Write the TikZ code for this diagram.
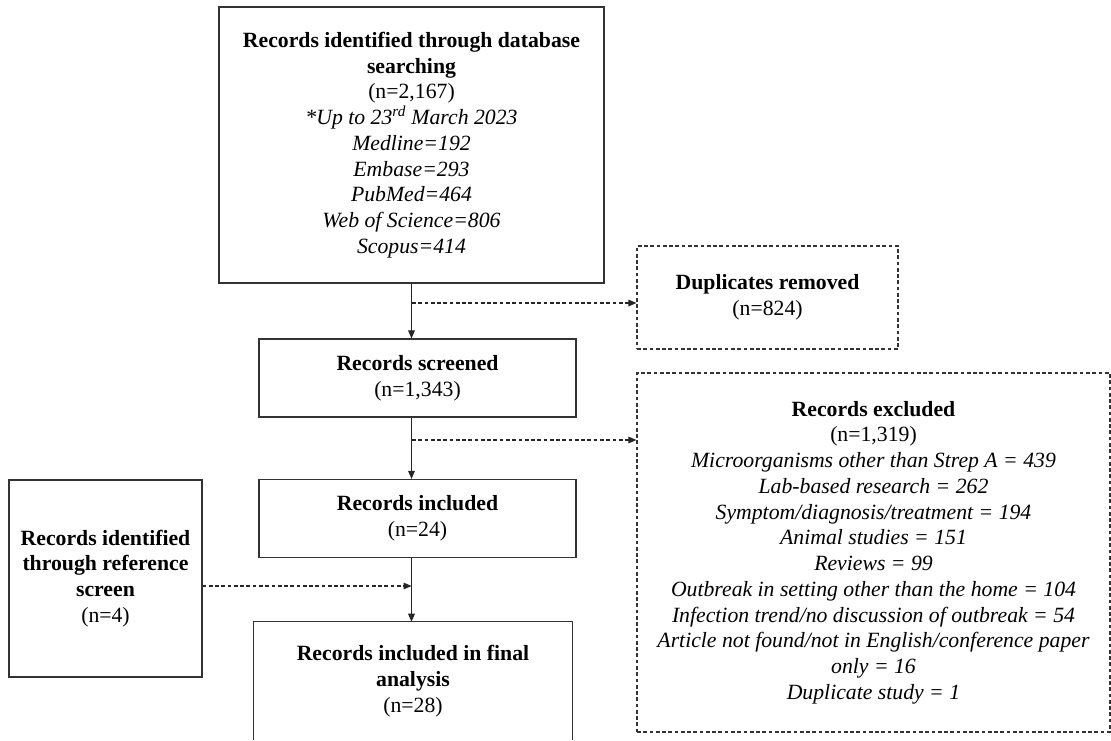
\documentclass[tikz,border=0pt]{standalone}
\usepackage{fontspec}
\setmainfont{Liberation Serif}
\usetikzlibrary{arrows.meta}
\begin{document}
\begin{tikzpicture}[x=0.75pt,y=-0.75pt,
  txt/.style={align=center, inner sep=0pt, font=\fontsize{16.3}{19.3}\selectfont},
  box/.style={txt, draw=black!80, line width=0.9pt},
  dbox/.style={box, dash pattern=on 2.8pt off 1.9pt},
  edge/.style={draw=black!80, line width=0.9pt},
  arr/.style={draw=black!85, line width=0.8pt, -{Triangle[length=6pt,width=5pt]}},
  darr/.style={arr, dash pattern=on 2.8pt off 1.9pt}]
\useasboundingbox (0,0) rectangle (1111,740);

\node[box, minimum width=288.75pt, minimum height=207pt] (top) at (411.5,145)
  {\textbf{Records identified through database}\\
   \textbf{searching}\\
   (n=2,167)\\
   \textit{*Up to 23\textsuperscript{rd} March 2023}\\
   \textit{Medline=192}\\
   \textit{Embase=293}\\
   \textit{PubMed=464}\\
   \textit{Web of Science=806}\\
   \textit{Scopus=414}};

\node[dbox, minimum width=195.75pt, minimum height=77.25pt] (dup) at (767.5,297.5)
  {\textbf{Duplicates removed}\\(n=824)};

\node[box, minimum width=237.75pt, minimum height=58.5pt] (scr) at (417.5,378)
  {\textbf{Records screened}\\(n=1,343)};

\node[dbox, minimum width=354.75pt, minimum height=269.25pt] (exc) at (873.5,552.5)
  {\textbf{Records excluded}\\
   (n=1,319)\\
   \textit{Microorganisms other than Strep A = 439}\\
   \textit{Lab-based research = 262}\\
   \textit{Symptom/diagnosis/treatment = 194}\\
   \textit{Animal studies = 151}\\
   \textit{Reviews = 99}\\
   \textit{Outbreak in setting other than the home = 104}\\
   \textit{Infection trend/no discussion of outbreak = 54}\\
   \textit{Article not found/not in English/conference paper}\\
   \textit{only = 16}\\
   \textit{Duplicate study = 1}};

\node[box, minimum width=237.75pt, minimum height=58.5pt] (inc) at (417.5,518.5)
  {\textbf{Records included}\\(n=24)};

\node[box, minimum width=144.75pt, minimum height=147.75pt] (ref) at (105.5,578.5)
  {\textbf{Records identified}\\
   \textbf{through reference}\\
   \textbf{screen}\\
   (n=4)};

\node[txt, minimum width=238.5pt, minimum height=88.5pt] (fin) at (413,681)
  {\textbf{Records included in final}\\
   \textbf{analysis}\\
   (n=28)};
\draw[edge] (fin.south west) |- (fin.north east) -- (fin.south east);

\coordinate (j1) at (412,303);
\coordinate (j2) at (412,440);
\coordinate (j3) at (202,586);

\draw[arr] (top.south) -- (top.south |- scr.north);
\draw[darr] (j1) -- (j1 -| dup.west);
\draw[arr] (top.south |- scr.south) -- (top.south |- inc.north);
\draw[darr] (j2) -- (j2 -| exc.west);
\draw[arr] (top.south |- inc.south) -- (top.south |- fin.north);
\draw[darr] (j3 -| ref.east) -- (j3 -| top.south);
\end{tikzpicture}
\end{document}
